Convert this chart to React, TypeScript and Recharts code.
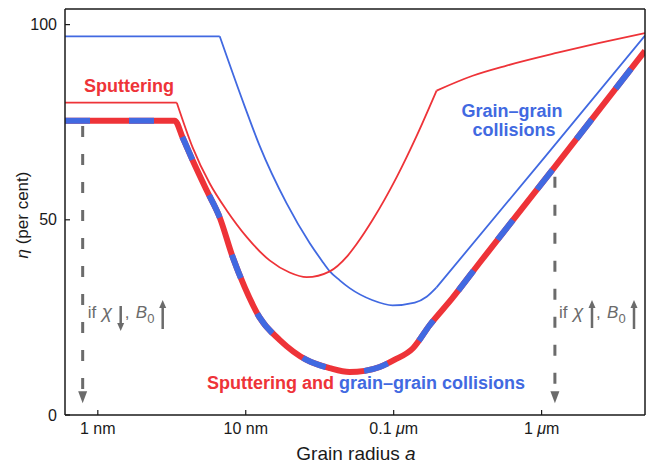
import { LineChart, Line, XAxis, YAxis, ReferenceLine, Customized } from "recharts"

const RED = "#ee3338"
const BLUE = "#4169e1"
const GREY = "#6b6b6b"
const INK = "#1a1a1a"
const FONT = '"Liberation Sans", Arial, Helvetica, sans-serif'

// grain radius in nm, eta in per cent
const sputterRadius = [0.6, 3.42, 4.38, 5.71, 7.44, 10.2, 14.5, 19.8, 25.8, 37.0, 48.1, 56.2, 72.1, 105, 143, 195, 342, 580, 1283, 2466, 5000]
const sputterEta = [80, 80, 68.5, 59.3, 52.4, 45.5, 39.6, 36.5, 35.3, 36.8, 40.5, 43.8, 50.0, 61.0, 71.5, 83.1, 86.9, 89.5, 92.8, 95.3, 97.8]
// indices where the curve has a sharp corner
const sputterCorners = [1, 15]

const collisionRadius = [0.6, 6.67, 9.85, 12.4, 18.9, 27.1, 32.6, 37.0, 43.2, 50.4, 72.1, 98.4, 139, 167, 195, 1047, 5000]
const collisionEta = [97, 97, 79, 69, 54.2, 44, 39.6, 36.8, 34.5, 32.5, 29.4, 28.1, 28.8, 30.3, 32.7, 66, 97.2]
const collisionCorners = [1, 14]

const combinedRadius = [0.6, 3.31, 3.75, 4.38, 5.45, 6.67, 8.17, 9.85, 12.4, 17.0, 25.8, 37.0, 50.4, 63.7, 80.4, 101, 135, 175, 250, 381, 1224, 5000]
const combinedEta = [75.4, 75.4, 71, 65.2, 57.5, 50.6, 40.4, 32.7, 25, 19.2, 14.1, 12, 11, 11.3, 12.3, 14.1, 17.1, 23, 30, 39, 63.5, 93.3]

const xTicks = [1, 10, 100, 1000]
const xTickLabels = ["1 nm", "10 nm", "0.1 μm", "1 μm"]
const yTicks = [0, 50, 100]

// dashed "if χ, B0" arrows
const arrowRadius = [0.79, 1230]
const arrowTop = [74, 61]
const arrowTip = [3, 3]

const toPoints = (radius: number[], eta: number[]) =>
  radius.map((a, i) => ({ a, eta: eta[i] }))

// split a series at its corners so the smooth curve keeps them sharp
function splitAt<T>(data: T[], corners: number[]): T[][] {
  const idx = [0, ...corners, data.length - 1]
  return idx.slice(0, -1).map((s, i) => data.slice(s, idx[i + 1] + 1))
}

const sputterPieces = splitAt(toPoints(sputterRadius, sputterEta), sputterCorners)
const collisionPieces = splitAt(toPoints(collisionRadius, collisionEta), collisionCorners)
const combinedData = toPoints(combinedRadius, combinedEta)

function XTick(props: any) {
  const { x, y, payload } = props
  const label = xTickLabels[xTicks.indexOf(payload.value)] ?? String(payload.value)
  const parts = label.split("μ")
  return (
    <text x={x} y={y} dy="0.71em" textAnchor="middle" fontSize={16} fill={INK}>
      {parts[0]}
      {parts.length > 1 && <tspan fontStyle="italic">μ</tspan>}
      {parts.length > 1 && parts[1]}
    </text>
  )
}

function DashedArrow(props: any) {
  const { x1, y1, x2, y2 } = props
  const head = 12
  return (
    <g>
      <line x1={x1} y1={y1} x2={x2} y2={y2 - head} stroke={GREY} strokeWidth={3} strokeDasharray="11 17" />
      <path d={`M${x2 - 4.5},${y2 - head} L${x2 + 4.5},${y2 - head} L${x2},${y2} Z`} fill={GREY} />
    </g>
  )
}

function SmallArrow({ x, top, bottom, up }: { x: number; top: number; bottom: number; up: boolean }) {
  const h = 8
  const w = 3.5
  const head = up
    ? `M${x - w},${top + h} L${x + w},${top + h} L${x},${top} Z`
    : `M${x - w},${bottom - h} L${x + w},${bottom - h} L${x},${bottom} Z`
  return (
    <g>
      <line x1={x} x2={x} y1={up ? top + h - 1 : top} y2={up ? bottom : bottom - h + 1} stroke={GREY} strokeWidth={2.5} />
      <path d={head} fill={GREY} />
    </g>
  )
}

function Condition({ x, chiUp }: { x: number; chiUp: boolean }) {
  const base = 310
  return (
    <g fill={GREY} fontSize={17}>
      <text x={x} y={base}>if</text>
      <text x={x + 14} y={base} fontStyle="italic" fontSize={19}>χ</text>
      <SmallArrow x={x + 33} top={chiUp ? 292 : 298} bottom={chiUp ? 320 : 323} up={chiUp} />
      <text x={x + 37} y={base}>,</text>
      <text x={x + 48} y={base} fontStyle="italic">B</text>
      <text x={x + 59.5} y={base + 5} fontSize={13}>0</text>
      <SmallArrow x={x + 75} top={292} bottom={321} up={true} />
    </g>
  )
}

function Annotations() {
  return (
    <g fontFamily={FONT}>
      <text x={121} y={84} textAnchor="middle" fontSize={18} fontWeight="bold" fill={RED}>Sputtering</text>
      <text x={504} y={109} textAnchor="middle" fontSize={18} fontWeight="bold" fill={BLUE}>Grain–grain</text>
      <text x={506} y={128} textAnchor="middle" fontSize={18} fontWeight="bold" fill={BLUE}>collisions</text>
      <text x={358} y={381} textAnchor="middle" fontSize={18} fontWeight="bold">
        <tspan fill={RED}>Sputtering and </tspan>
        <tspan fill={BLUE}>grain–grain collisions</tspan>
      </text>
      <Condition x={79.7} chiUp={false} />
      <Condition x={551} chiUp={true} />
      <text x={348} y={452} textAnchor="middle" fontSize={19} fill={INK}>
        Grain radius <tspan fontStyle="italic">a</tspan>
      </text>
      <text x={14} y={207} transform="rotate(-90 14 207)" dy="0.35em" textAnchor="middle" fontSize={17} fill={INK}>
        <tspan fontStyle="italic">η</tspan> (per cent)
      </text>
    </g>
  )
}

export default function App() {
  const axisLine = { stroke: INK, strokeWidth: 1.5 }
  const tickLine = { stroke: INK, strokeWidth: 1.2 }
  return (
    <div style={{ width: 647, height: 456, fontFamily: FONT }}>
      <LineChart width={647} height={456} margin={{ top: 0, right: 9, bottom: 0, left: 0 }}>
        <XAxis
          xAxisId="b"
          type="number"
          dataKey="a"
          scale="log"
          domain={[0.6, 5000]}
          allowDataOverflow
          ticks={xTicks}
          tick={<XTick />}
          tickSize={-5}
          tickMargin={13}
          height={49}
          axisLine={axisLine}
          tickLine={tickLine}
        />
        <XAxis
          xAxisId="t"
          orientation="top"
          type="number"
          dataKey="a"
          scale="log"
          domain={[0.6, 5000]}
          allowDataOverflow
          ticks={xTicks}
          tick={false}
          tickSize={-5}
          height={1}
          axisLine={axisLine}
          tickLine={tickLine}
        />
        <YAxis
          yAxisId="l"
          type="number"
          domain={[0, 104]}
          allowDataOverflow
          ticks={yTicks}
          tick={{ fontSize: 16, fill: INK }}
          tickSize={-5}
          tickMargin={13}
          width={57}
          axisLine={axisLine}
          tickLine={tickLine}
        />
        <YAxis
          yAxisId="r"
          orientation="right"
          type="number"
          domain={[0, 104]}
          allowDataOverflow
          ticks={yTicks}
          tick={false}
          tickSize={-5}
          width={1}
          axisLine={axisLine}
          tickLine={tickLine}
        />
        {arrowRadius.map((a, i) => (
          <ReferenceLine
            key={i}
            xAxisId="b"
            yAxisId="l"
            segment={[{ x: a, y: arrowTop[i] }, { x: a, y: arrowTip[i] }]}
            shape={DashedArrow}
          />
        ))}
        {collisionPieces.map((piece, i) => (
          <Line key={`c${i}`} xAxisId="b" yAxisId="l" data={piece} dataKey="eta" type="monotone" stroke={BLUE} strokeWidth={1.8} dot={false} activeDot={false} isAnimationActive={false} />
        ))}
        {sputterPieces.map((piece, i) => (
          <Line key={`s${i}`} xAxisId="b" yAxisId="l" data={piece} dataKey="eta" type="monotone" stroke={RED} strokeWidth={1.8} dot={false} activeDot={false} isAnimationActive={false} />
        ))}
        <Line xAxisId="b" yAxisId="l" data={combinedData} dataKey="eta" type="monotone" stroke={RED} strokeWidth={6} strokeLinejoin="round" dot={false} activeDot={false} isAnimationActive={false} />
        <Line xAxisId="b" yAxisId="l" data={combinedData} dataKey="eta" type="monotone" stroke={BLUE} strokeWidth={6} strokeDasharray="25 39" strokeLinejoin="round" dot={false} activeDot={false} isAnimationActive={false} />
        <Customized component={Annotations} />
      </LineChart>
    </div>
  )
}
